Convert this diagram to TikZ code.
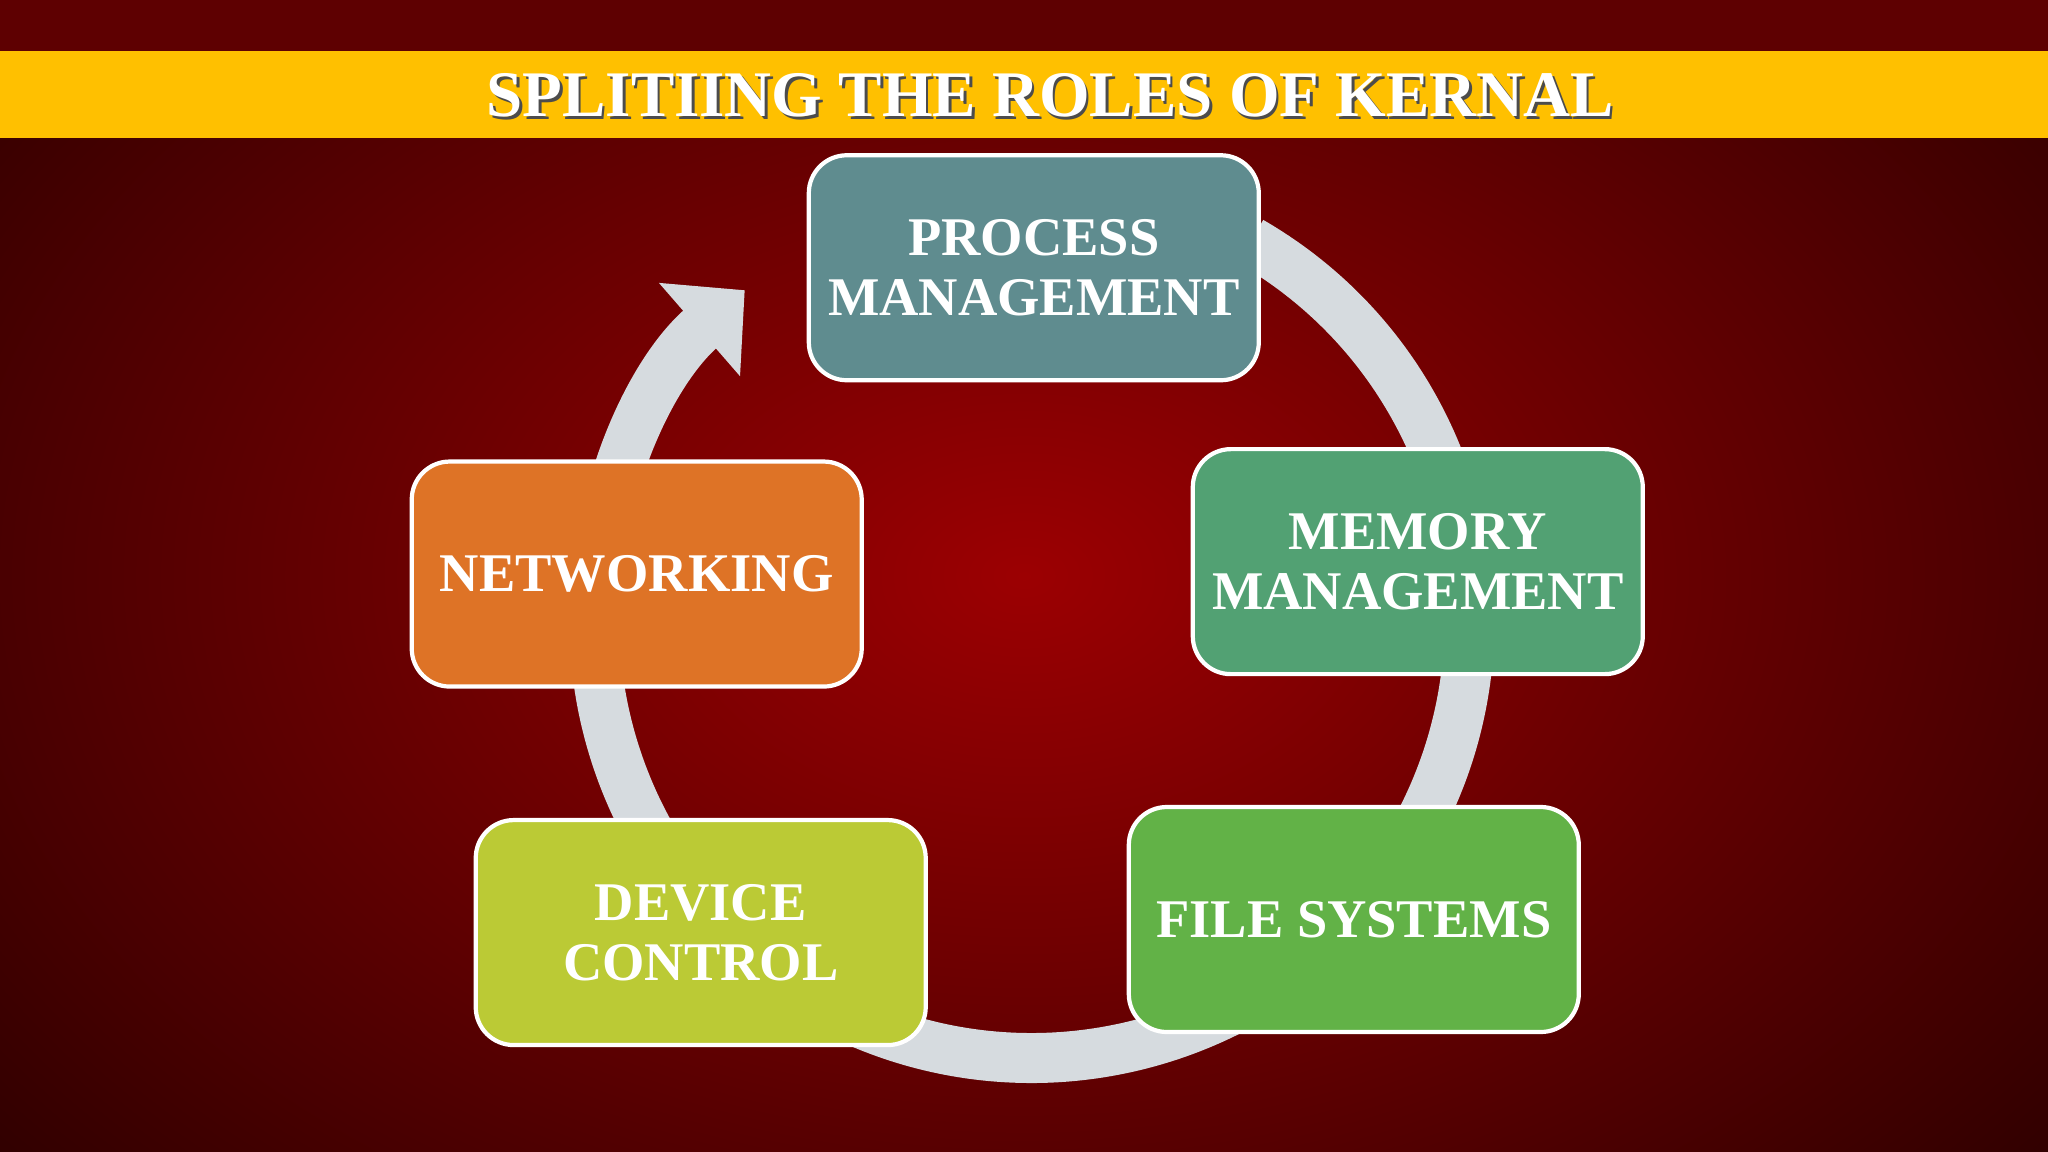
\documentclass[tikz,border=0pt]{standalone}
\usepackage{fontspec}
\setmainfont{Liberation Serif}
\usetikzlibrary{arrows.meta}
\definecolor{bgin}{HTML}{9C0002}
\definecolor{bgout}{HTML}{2A0000}
\definecolor{band}{HTML}{FFC000}
\definecolor{ring}{HTML}{D6DBDF}
\definecolor{cproc}{HTML}{5F8C8F}
\definecolor{cmem}{HTML}{52A173}
\definecolor{cfile}{HTML}{62B247}
\definecolor{cdev}{HTML}{BBCA35}
\definecolor{cnet}{HTML}{DE7326}
\tikzset{
  rolebox/.style={draw=white, line width=1.2pt, rounded corners=0.38cm,
    minimum width=4.5cm, minimum height=2.25cm, align=center, text=white,
    font=\fontsize{15.5}{17}\selectfont\bfseries, inner sep=0pt},
}
\begin{document}
\begin{tikzpicture}[x=0.013061cm, y=-0.013061cm]
\useasboundingbox (0,0) rectangle (1568,882);
\shade[inner color=bgin, outer color=bgout] (-300,-300) rectangle (1868,1182);
\fill[bgin!60!black] (0,0) rectangle (1568,39);
\fill[band] (0,39) rectangle (1568,106);
\node[text=black!70, font=\fontsize{18.5}{20}\selectfont\bfseries] at (806,75) {SPLITIING THE ROLES OF KERNAL};
\node[text=white, font=\fontsize{18.5}{20}\selectfont\bfseries] (title) at (804,73) {SPLITIING THE ROLES OF KERNAL};
% ring
\coordinate (c) at (790,475);
\draw[ring, line width=0.5cm, -{Triangle[length=0.6cm, width=1.2cm]}]
  ([shift={(60:335 and -335)}]c) arc[start angle=60, end angle=-229, x radius=335, y radius=-335];
% boxes
\node[rolebox, fill=cproc] (proc) at (791.5,205) {PROCESS\\MANAGEMENT};
\node[rolebox, fill=cmem] (mem) at (1085.5,430) {MEMORY\\MANAGEMENT};
\node[rolebox, fill=cfile] (file) at (1036.5,704) {FILE SYSTEMS};
\node[rolebox, fill=cdev] (dev) at (536.5,714) {DEVICE\\CONTROL};
\node[rolebox, fill=cnet] (net) at (487.5,439.5) {NETWORKING};
\end{tikzpicture}
\end{document}
